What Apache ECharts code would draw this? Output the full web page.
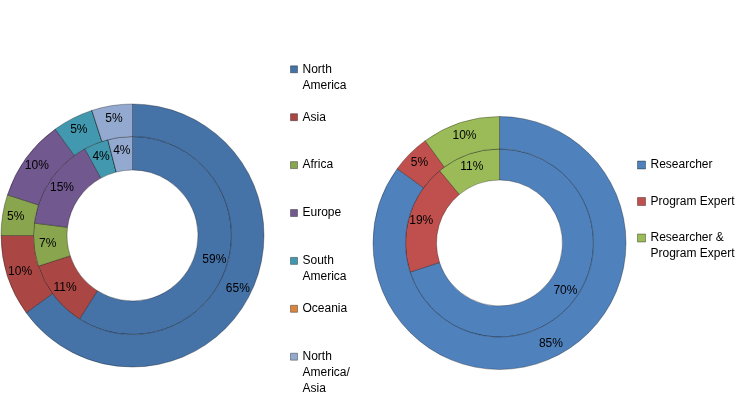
<!DOCTYPE html>
<html><head><meta charset="utf-8">
<script src="https://cdn.jsdelivr.net/npm/echarts@6/dist/echarts.min.js"></script>
<style>html,body{margin:0;padding:0;background:#fff}#c{width:756px;height:396px}</style>
</head><body><div id="c"></div>
<script>
// ---- data ----
const regions = ['North America', 'Asia', 'Africa', 'Europe', 'South America', 'Oceania', 'North America/Asia'];
const regionLabels = ['North\nAmerica', 'Asia', 'Africa', 'Europe', 'South\nAmerica', 'Oceania', 'North\nAmerica/\nAsia'];
const regionInner = [59, 11, 7, 15, 4, 0, 4];
const regionOuter = [65, 10, 5, 10, 5, 0, 5];

const roles = ['Researcher', 'Program Expert', 'Researcher & Program Expert'];
const roleLabels = ['Researcher', 'Program Expert', 'Researcher &\nProgram Expert'];
const roleInner = [70, 19, 11];
const roleOuter = [85, 5, 10];

// ---- style ----
const regionColors = ['#4572A7', '#AA4643', '#89A54E', '#71588F', '#4198AF', '#DB843D', '#93A9CF'];
const roleColors = ['#4F81BD', '#C0504D', '#9BBB59'];
const FONT = 'Liberation Sans, Arial, sans-serif';

function pieSeries(names, values, colors, center, radius) {
  return {
    type: 'pie',
    center: center,
    radius: radius,
    startAngle: 90,
    clockwise: true,
    silent: true,
    animation: false,
    emphasis: { disabled: true },
    label: {
      show: true,
      position: 'inside',
      color: '#000',
      fontSize: 12,
      fontFamily: FONT,
      formatter: p => (p.value > 0 ? p.value + '%' : '')
    },
    labelLine: { show: false },
    itemStyle: { borderColor: 'rgba(0,0,0,0.3)', borderWidth: 1 },
    data: names.map((n, i) => ({ name: n, value: values[i], itemStyle: { color: colors[i] } }))
  };
}

// legend text block is centred on the icon; pad with blank lines above so the
// first real line sits next to the icon
function legendItem(name, label, x, cy, size) {
  const n = label.split('\n').length;
  const padded = '\n'.repeat(n - 1) + label;
  return {
    data: [name],
    left: x,
    top: cy - 16 * (n - 1) - 7,
    padding: 0,
    orient: 'vertical',
    icon: 'rect',
    itemWidth: size,
    itemHeight: size,
    selectedMode: false,
    formatter: () => padded,
    itemStyle: { borderColor: 'rgba(0,0,0,0.35)', borderWidth: 1 },
    textStyle: {
      fontFamily: FONT,
      fontSize: 12,
      lineHeight: 16,
      color: '#000'
    }
  };
}

const legends = [];
regions.forEach((r, i) => legends.push(legendItem(r, regionLabels[i], 290, 68.3 + 47.9 * i, 7)));
roles.forEach((r, i) => legends.push(legendItem(r, roleLabels[i], 637, 164 + 36.5 * i, 8)));

const chart = echarts.init(document.getElementById('c'), null, { renderer: 'canvas' });
chart.setOption({
  animation: false,
  backgroundColor: '#fff',
  legend: legends,
  series: [
    pieSeries(regions, regionInner, regionColors, [132.5, 235.5], [65.5, 99]),
    pieSeries(regions, regionOuter, regionColors, [132.5, 235.5], [99, 131.5]),
    pieSeries(roles, roleInner, roleColors, [499.5, 243], [63, 94]),
    pieSeries(roles, roleOuter, roleColors, [499.5, 243], [94, 126.5])
  ]
});
</script></body></html>
